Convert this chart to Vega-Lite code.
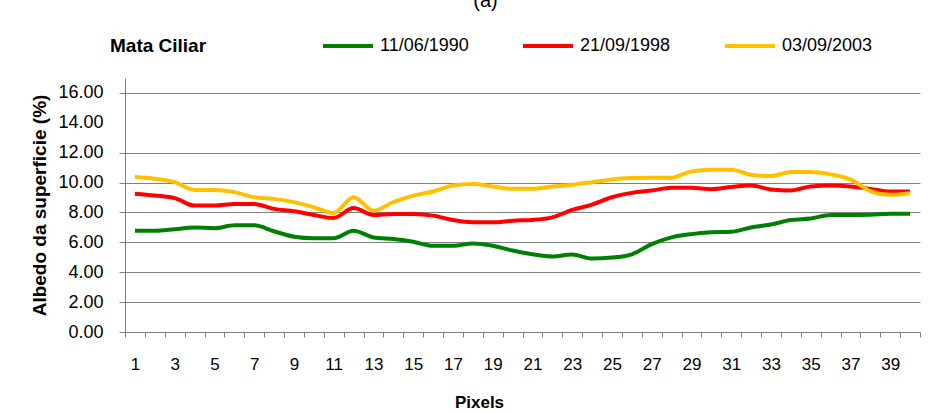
{
  "$schema": "https://vega.github.io/schema/vega-lite/v6.json",
  "width": 795,
  "height": 254,
  "autosize": {"type": "none"},
  "padding": {"left": 125, "top": 78, "right": 31, "bottom": 80},
  "background": "white",
  "title": {
    "text": "(a)",
    "anchor": "middle",
    "dx": -37,
    "offset": 8,
    "font": "Liberation Sans",
    "fontSize": 20,
    "fontWeight": "normal",
    "color": "black"
  },
  "data": {
    "values": [
      {"pixel": 1, "11/06/1990": 6.78, "21/09/1998": 9.25, "03/09/2003": 10.37},
      {"pixel": 2, "11/06/1990": 6.78, "21/09/1998": 9.13, "03/09/2003": 10.26},
      {"pixel": 3, "11/06/1990": 6.88, "21/09/1998": 8.96, "03/09/2003": 10.03},
      {"pixel": 4, "11/06/1990": 7.0, "21/09/1998": 8.46, "03/09/2003": 9.51},
      {"pixel": 5, "11/06/1990": 6.94, "21/09/1998": 8.46, "03/09/2003": 9.51},
      {"pixel": 6, "11/06/1990": 7.14, "21/09/1998": 8.57, "03/09/2003": 9.36},
      {"pixel": 7, "11/06/1990": 7.14, "21/09/1998": 8.57, "03/09/2003": 9.02},
      {"pixel": 8, "11/06/1990": 6.74, "21/09/1998": 8.24, "03/09/2003": 8.91},
      {"pixel": 9, "11/06/1990": 6.38, "21/09/1998": 8.08, "03/09/2003": 8.69},
      {"pixel": 10, "11/06/1990": 6.28, "21/09/1998": 7.83, "03/09/2003": 8.35},
      {"pixel": 11, "11/06/1990": 6.28, "21/09/1998": 7.63, "03/09/2003": 7.97},
      {"pixel": 12, "11/06/1990": 6.78, "21/09/1998": 8.3, "03/09/2003": 9.02},
      {"pixel": 13, "11/06/1990": 6.33, "21/09/1998": 7.83, "03/09/2003": 8.12},
      {"pixel": 14, "11/06/1990": 6.22, "21/09/1998": 7.9, "03/09/2003": 8.69},
      {"pixel": 15, "11/06/1990": 6.04, "21/09/1998": 7.9, "03/09/2003": 9.13},
      {"pixel": 16, "11/06/1990": 5.77, "21/09/1998": 7.79, "03/09/2003": 9.4},
      {"pixel": 17, "11/06/1990": 5.77, "21/09/1998": 7.49, "03/09/2003": 9.8},
      {"pixel": 18, "11/06/1990": 5.93, "21/09/1998": 7.34, "03/09/2003": 9.9},
      {"pixel": 19, "11/06/1990": 5.77, "21/09/1998": 7.34, "03/09/2003": 9.74},
      {"pixel": 20, "11/06/1990": 5.45, "21/09/1998": 7.45, "03/09/2003": 9.58},
      {"pixel": 21, "11/06/1990": 5.2, "21/09/1998": 7.5, "03/09/2003": 9.58},
      {"pixel": 22, "11/06/1990": 5.05, "21/09/1998": 7.67, "03/09/2003": 9.74},
      {"pixel": 23, "11/06/1990": 5.18, "21/09/1998": 8.17, "03/09/2003": 9.85},
      {"pixel": 24, "11/06/1990": 4.92, "21/09/1998": 8.53, "03/09/2003": 10.03},
      {"pixel": 25, "11/06/1990": 4.98, "21/09/1998": 9.02, "03/09/2003": 10.21},
      {"pixel": 26, "11/06/1990": 5.2, "21/09/1998": 9.31, "03/09/2003": 10.3},
      {"pixel": 27, "11/06/1990": 5.88, "21/09/1998": 9.47, "03/09/2003": 10.33},
      {"pixel": 28, "11/06/1990": 6.33, "21/09/1998": 9.65, "03/09/2003": 10.33},
      {"pixel": 29, "11/06/1990": 6.55, "21/09/1998": 9.65, "03/09/2003": 10.75},
      {"pixel": 30, "11/06/1990": 6.67, "21/09/1998": 9.56, "03/09/2003": 10.86},
      {"pixel": 31, "11/06/1990": 6.71, "21/09/1998": 9.7, "03/09/2003": 10.86},
      {"pixel": 32, "11/06/1990": 7.0, "21/09/1998": 9.8, "03/09/2003": 10.53},
      {"pixel": 33, "11/06/1990": 7.2, "21/09/1998": 9.54, "03/09/2003": 10.44},
      {"pixel": 34, "11/06/1990": 7.49, "21/09/1998": 9.47, "03/09/2003": 10.71},
      {"pixel": 35, "11/06/1990": 7.6, "21/09/1998": 9.74, "03/09/2003": 10.71},
      {"pixel": 36, "11/06/1990": 7.83, "21/09/1998": 9.8, "03/09/2003": 10.55},
      {"pixel": 37, "11/06/1990": 7.83, "21/09/1998": 9.74, "03/09/2003": 10.21},
      {"pixel": 38, "11/06/1990": 7.85, "21/09/1998": 9.58, "03/09/2003": 9.43},
      {"pixel": 39, "11/06/1990": 7.92, "21/09/1998": 9.4, "03/09/2003": 9.18},
      {"pixel": 40, "11/06/1990": 7.92, "21/09/1998": 9.4, "03/09/2003": 9.29}
    ]
  },
  "transform": [
    {"fold": ["11/06/1990", "21/09/1998", "03/09/2003"], "as": ["serie", "albedo"]}
  ],
  "mark": {"type": "line", "strokeWidth": 4, "interpolate": "monotone"},
  "encoding": {
    "x": {
      "field": "pixel",
      "type": "ordinal",
      "scale": {"type": "band", "paddingInner": 0, "paddingOuter": 0},
      "axis": {
        "title": "Pixels",
        "titleFont": "Liberation Sans",
        "titleFontSize": 17,
        "titleFontWeight": "bold",
        "titleColor": "black",
        "titleX": 354,
        "titleY": 75,
        "titleBaseline": "alphabetic",
        "labelAngle": 0,
        "labelFont": "Liberation Sans",
        "labelFontSize": 17,
        "labelColor": "black",
        "labelPadding": 19,
        "labelExpr": "datum.value % 2 == 1 ? datum.label : ''",
        "tickBand": "extent",
        "tickSize": 5,
        "tickColor": "#808080",
        "domainColor": "#808080",
        "domainWidth": 1,
        "grid": false
      }
    },
    "y": {
      "field": "albedo",
      "type": "quantitative",
      "scale": {"domain": [0, 17], "nice": false},
      "axis": {
        "title": "Albedo da superficie (%)",
        "titleFont": "Liberation Sans",
        "titleFontSize": 19,
        "titleFontWeight": "bold",
        "titleColor": "black",
        "titlePadding": 8,
        "values": [0, 2, 4, 6, 8, 10, 12, 14, 16],
        "format": ".2f",
        "labelFont": "Liberation Sans",
        "labelFontSize": 18,
        "labelColor": "black",
        "labelPadding": 16,
        "tickSize": 6,
        "tickColor": "#808080",
        "tickOpacity": {"condition": {"test": "datum.value == 14", "value": 0}, "value": 1},
        "domainColor": "#808080",
        "grid": true,
        "gridColor": "#808080",
        "gridWidth": 1,
        "gridOpacity": {"condition": {"test": "datum.value == 14", "value": 0}, "value": 1}
      }
    },
    "color": {
      "field": "serie",
      "type": "nominal",
      "sort": ["11/06/1990", "21/09/1998", "03/09/2003"],
      "scale": {
        "domain": ["11/06/1990", "21/09/1998", "03/09/2003"],
        "range": ["#008000", "#FF0000", "#FFC000"]
      },
      "legend": {
        "title": "Mata Ciliar",
        "orient": "none",
        "legendX": -15,
        "legendY": -59,
        "direction": "horizontal",
        "titleOrient": "left",
        "titleFont": "Liberation Sans",
        "titleFontSize": 19,
        "titleFontWeight": "bold",
        "titleColor": "black",
        "titlePadding": 114,
        "titleBaseline": "top",
        "symbolType": "stroke",
        "symbolSize": 2500,
        "symbolStrokeWidth": 4,
        "labelFont": "Liberation Sans",
        "labelFontSize": 18,
        "labelColor": "black",
        "labelOffset": 5,
        "labelLimit": 200,
        "columnPadding": 46,
        "padding": 0
      }
    }
  },
  "config": {
    "view": {"stroke": null}
  }
}
